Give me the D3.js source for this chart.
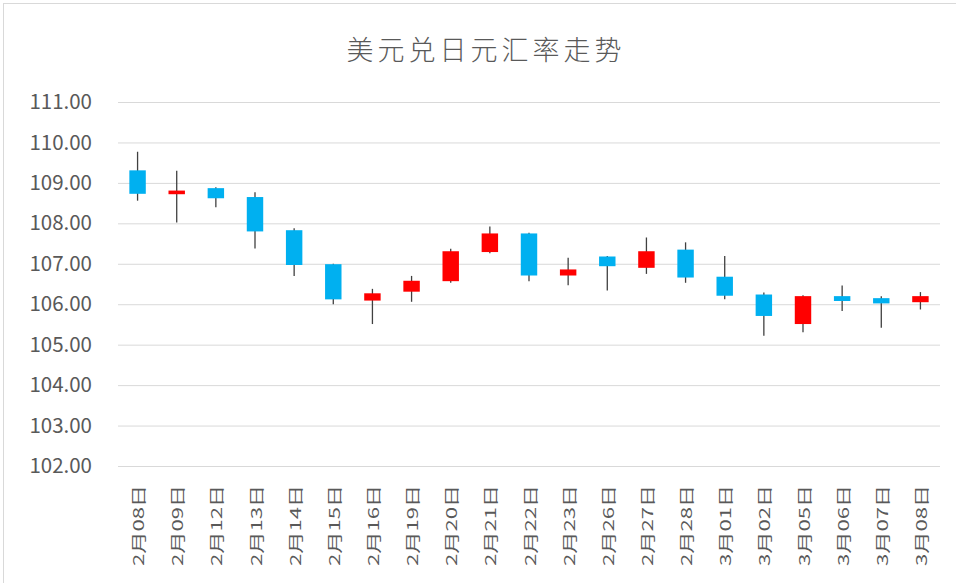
<!DOCTYPE html>
<html>
<head>
<meta charset="utf-8">
<script src="https://cdn.jsdelivr.net/npm/d3@7"></script>
<style>
  body { margin: 0; background: #fff; }
  svg { display: block; }
</style>
</head>
<body>
<div id="chart"></div>
<script>
// data
const dates = ['2月08日', '2月09日', '2月12日', '2月13日', '2月14日', '2月15日', '2月16日',
  '2月19日', '2月20日', '2月21日', '2月22日', '2月23日', '2月26日', '2月27日', '2月28日',
  '3月01日', '3月02日', '3月05日', '3月06日', '3月07日', '3月08日']
const openVals  = [109.31, 108.72, 108.87, 108.65, 107.83, 106.99, 106.09, 106.31, 106.57, 107.29, 107.75,
  106.71, 107.18, 106.90, 107.35, 106.68, 106.24, 105.51, 106.20, 106.15, 106.05]
const highVals  = [109.77, 109.30, 108.89, 108.77, 107.88, 107.00, 106.38, 106.70, 107.37, 107.92, 107.77,
  107.15, 107.19, 107.65, 107.53, 107.19, 106.29, 106.22, 106.46, 106.20, 106.30]
const lowVals   = [108.56, 108.02, 108.40, 107.38, 106.70, 106.00, 105.51, 106.06, 106.53, 107.26, 106.57,
  106.47, 106.34, 106.75, 106.53, 106.12, 105.22, 105.31, 105.83, 105.42, 105.87]
const closeVals = [108.73, 108.81, 108.62, 107.80, 106.97, 106.12, 106.27, 106.58, 107.31, 107.75, 106.71,
  106.86, 106.94, 107.31, 106.66, 106.21, 105.71, 106.20, 106.08, 106.02, 106.20]
const yTicks = [102, 103, 104, 105, 106, 107, 108, 109, 110, 111]

const dataSet = dates.map((d, i) => ({
  date: d, open: openVals[i], high: highVals[i], low: lowVals[i], close: closeVals[i]
}))

// set Dimension
const dimensions = { width: 956, height: 583 }
const plot = { left: 118, right: 940, top: 102, bottom: 466 }

const svg = d3.select('#chart')
  .append('svg')
  .attr('width', dimensions.width)
  .attr('height', dimensions.height)

// chart border
svg.append('rect')
  .attr('x', 3.5).attr('y', 3.5)
  .attr('width', 980).attr('height', 620)
  .attr('fill', 'none')
  .attr('stroke', '#d9d9d9')

// title
svg.append('text')
  .attr('x', 486).attr('y', 60)
  .attr('text-anchor', 'middle')
  .attr('fill', '#595959')
  .style('font-family', '"Noto Sans CJK SC", sans-serif')
  .style('font-size', '27px')
  .style('font-weight', 300)
  .style('letter-spacing', '4px')
  .text('美元兑日元汇率走势')

// Scale
const xScale = d3.scaleBand()
  .domain(dates)
  .range([plot.left, plot.right])

const yScale = d3.scaleLinear()
  .domain([102, 111])
  .range([plot.bottom, plot.top])

// grid
svg.append('g')
  .selectAll('line')
  .data(yTicks)
  .join('line')
  .attr('x1', plot.left).attr('x2', plot.right)
  .attr('y1', d => yScale(d) + 0.5).attr('y2', d => yScale(d) + 0.5)
  .attr('stroke', '#d9d9d9')

// y axis
const yAxis = d3.axisLeft(yScale)
  .tickValues(yTicks)
  .tickFormat(d3.format('.2f'))
  .tickSize(0)
  .tickPadding(26)

const yAxisGroup = svg.append('g')
  .attr('transform', `translate(${plot.left}, 0)`)
  .call(yAxis)
yAxisGroup.select('.domain').remove()
yAxisGroup.selectAll('text')
  .attr('fill', '#595959')
  .style('font-family', '"Noto Sans CJK SC", sans-serif')
  .style('font-size', '20.5px')

// x axis labels
const xAxis = d3.axisBottom(xScale).tickSize(0).tickPadding(0)
const xAxisGroup = svg.append('g')
  .attr('transform', `translate(0, ${plot.bottom})`)
  .call(xAxis)
xAxisGroup.select('.domain').remove()
xAxisGroup.selectAll('text')
  .attr('fill', '#595959')
  .attr('dy', null)
  .attr('y', 0)
  .attr('x', 0)
  .attr('text-anchor', 'end')
  .attr('dominant-baseline', 'central')
  .attr('transform', 'translate(0, 19) rotate(-90) scale(1.3, 0.85)')
  .style('font-family', '"Noto Sans CJK SC", sans-serif')
  .style('font-size', '17px')

// candles
const cx = d => xScale(d.date) + xScale.bandwidth() / 2
const bodyW = xScale.bandwidth() * 0.42

const candles = svg.append('g')
  .selectAll('g')
  .data(dataSet)
  .join('g')

candles.append('line')
  .attr('x1', cx).attr('x2', cx)
  .attr('y1', d => yScale(d.high))
  .attr('y2', d => yScale(d.low))
  .attr('stroke', '#404040')
  .attr('stroke-width', 1.3)

candles.append('rect')
  .attr('x', d => cx(d) - bodyW / 2)
  .attr('width', bodyW)
  .attr('y', d => yScale(Math.max(d.open, d.close)))
  .attr('height', d => Math.max(2, Math.abs(yScale(d.open) - yScale(d.close))))
  .attr('fill', d => d.close >= d.open ? '#ff0000' : '#00b0f0')
</script>
</body>
</html>
